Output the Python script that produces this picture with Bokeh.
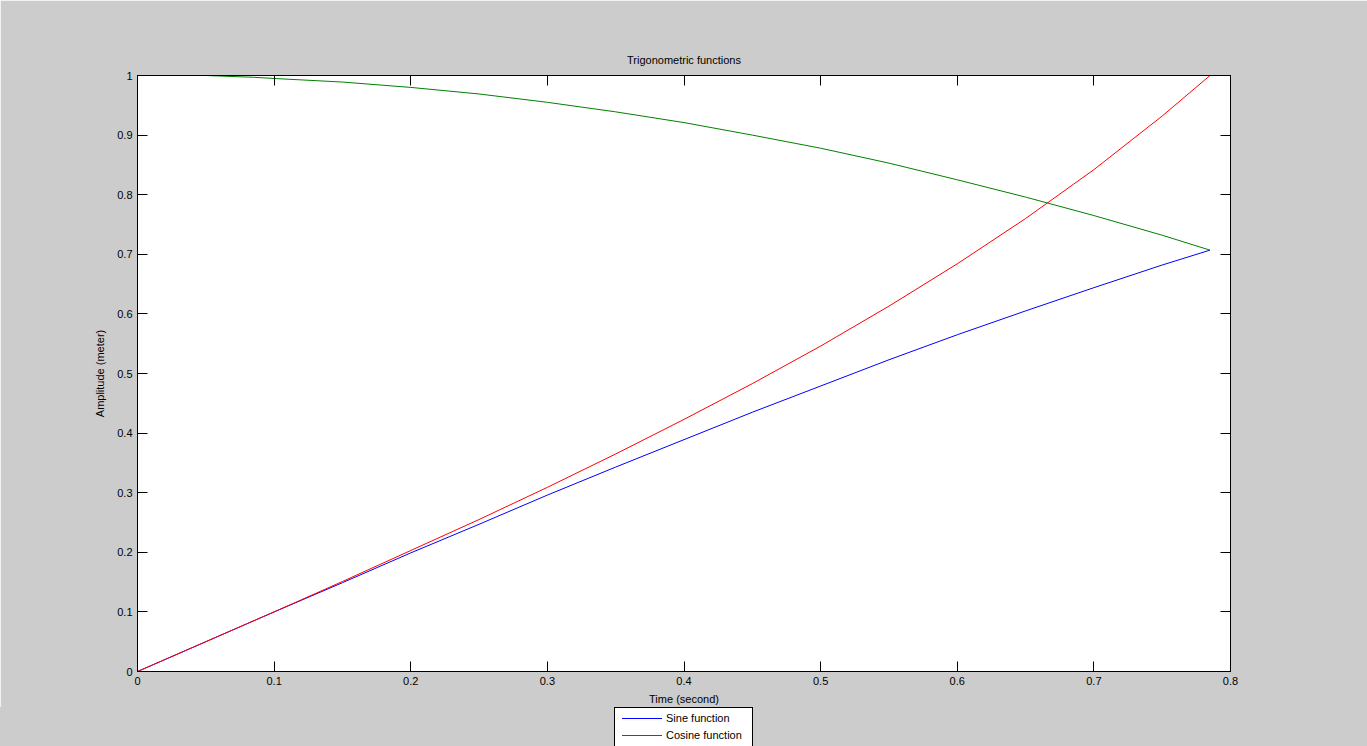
from bokeh.plotting import figure
from bokeh.layouts import column
from bokeh.models import Range1d, LinearAxis, FixedTicker, CustomJSTickFormatter, Div
from bokeh.embed import file_html
from bokeh.resources import INLINE

# time samples (second)
t = [0, 0.05, 0.1, 0.15, 0.2, 0.25, 0.3, 0.35, 0.4, 0.45, 0.5, 0.55,
     0.6, 0.65, 0.7, 0.75, 0.785]
sine_vals = [0, 0.050, 0.100, 0.149, 0.199, 0.247, 0.296, 0.343, 0.389, 0.435,
             0.479, 0.523, 0.565, 0.605, 0.644, 0.682, 0.707]
tangent_vals = [0, 0.050, 0.100, 0.151, 0.203, 0.255, 0.309, 0.365, 0.423, 0.483,
                0.546, 0.613, 0.684, 0.760, 0.842, 0.932, 1.0]
# cosine curve starts a bit after zero
t_cos = [0.05, 0.085, 0.1, 0.15, 0.2, 0.25, 0.3, 0.35, 0.375, 0.4, 0.45, 0.5,
         0.55, 0.6, 0.65, 0.7, 0.75, 0.785]
cosine_vals = [1.0, 0.997, 0.995, 0.989, 0.980, 0.969, 0.955, 0.939, 0.930, 0.921,
               0.900, 0.878, 0.853, 0.825, 0.796, 0.765, 0.732, 0.707]

x_ticks = [0, 0.1, 0.2, 0.3, 0.4, 0.5, 0.6, 0.7, 0.8]
y_ticks = [0, 0.1, 0.2, 0.3, 0.4, 0.5, 0.6, 0.7, 0.8, 0.9, 1]

legend_labels = ["Sine function", "Cosine function"]

FONT = "Liberation Sans"
GREY = "#cccccc"
SIN_COLOR = "#0000ff"
COS_COLOR = "#008000"
TAN_COLOR = "#ff0000"

p = figure(width=1367, height=707, output_backend="svg", toolbar_location=None,
           x_range=Range1d(0, 0.8), y_range=Range1d(0, 1),
           title="Trigonometric functions",
           x_axis_label="Time (second)", y_axis_label="Amplitude (meter)",
           min_border_left=137, min_border_right=137,
           min_border_top=75, min_border_bottom=36)

p.border_fill_color = GREY
p.background_fill_color = "white"
p.outline_line_color = "black"
p.grid.grid_line_color = None

p.title.align = "center"
p.title.text_font = FONT
p.title.text_font_size = "11px"
p.title.text_font_style = "normal"
p.title.text_color = "black"
p.title.standoff = 19

fmt = CustomJSTickFormatter(code="return String(Math.round(tick * 10) / 10)")
blank = CustomJSTickFormatter(code="return ''")

for ax, ticks in ((p.xaxis[0], x_ticks), (p.yaxis[0], y_ticks)):
    ax.ticker = FixedTicker(ticks=ticks)
    ax.formatter = fmt
    ax.major_tick_in = 10
    ax.major_tick_out = 0
    ax.minor_tick_line_color = None
    ax.axis_line_color = "black"
    ax.major_tick_line_color = "black"
    ax.major_label_text_font = FONT
    ax.major_label_text_font_size = "11px"
    ax.major_label_text_color = "black"
    ax.axis_label_text_font = FONT
    ax.axis_label_text_font_size = "11px"
    ax.axis_label_text_font_style = "normal"
    ax.axis_label_text_color = "black"

p.xaxis[0].major_label_standoff = 5
p.xaxis[0].axis_label_standoff = 5
p.yaxis[0].major_label_standoff = 5
p.yaxis[0].axis_label_standoff = 8

# box ticks on top and right
for side, ticks in (("above", x_ticks), ("right", y_ticks)):
    ax = LinearAxis(ticker=FixedTicker(ticks=ticks), formatter=blank)
    ax.major_tick_in = 10
    ax.major_tick_out = 0
    ax.minor_tick_line_color = None
    ax.major_label_standoff = 0
    ax.major_label_text_font_size = "1px"
    ax.axis_line_color = "black"
    p.add_layout(ax, side)

p.line(t, sine_vals, line_color=SIN_COLOR, line_width=1)
p.line(t_cos, cosine_vals, line_color=COS_COLOR, line_width=1)
p.line(t, tangent_vals, line_color=TAN_COLOR, line_width=1)

# legend box below the axes, cut by the window edge as in the original
rows = ""
for i, (label, color) in enumerate(zip(legend_labels, [SIN_COLOR, COS_COLOR])):
    top = 3 + 17 * i
    rows += (f'<div style="position:absolute;left:7px;top:{top + 7}px;width:40px;'
             f'height:1px;background-color:{color};"></div>'
             f'<div style="position:absolute;left:51px;top:{top}px;line-height:14px;'
             f'white-space:nowrap;">{label}</div>')
legend_html = (f'<div style="position:absolute;left:614px;top:0px;width:139px;height:50px;'
               f'box-sizing:border-box;border:1px solid #000;background:#fff;'
               f'font-family:\'{FONT}\';font-size:11px;color:#000;">{rows}</div>')

strip = Div(text=legend_html, width=1367, height=39,
            styles={"background-color": GREY, "overflow": "hidden",
                    "position": "relative", "margin": "0", "padding": "0"})

layout = column(p, strip, spacing=0)
open("out.html", "w").write(file_html(layout, INLINE))
